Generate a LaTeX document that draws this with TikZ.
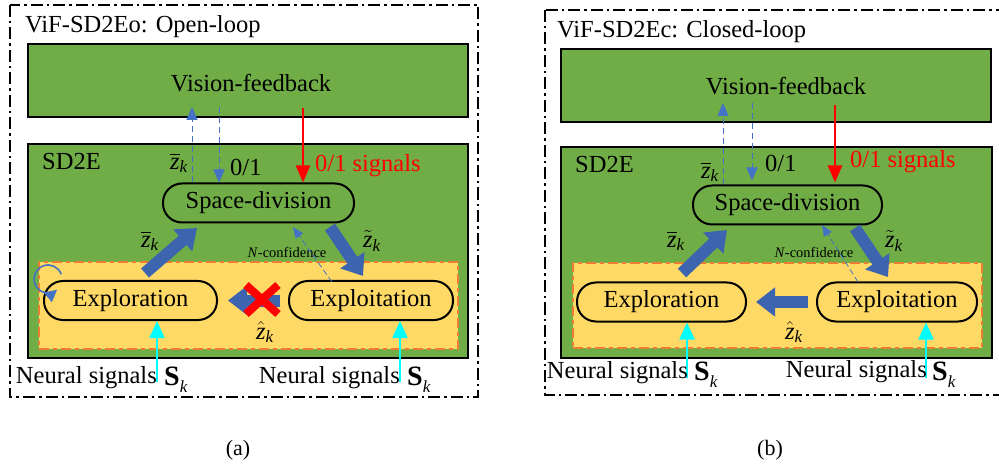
\RequirePackage{fix-cm}
\documentclass[tikz,border=0pt]{standalone}
\usepackage{amsmath}
\usepackage{fontspec}
\setmainfont{Liberation Serif}
\usetikzlibrary{arrows.meta,calc}
\definecolor{gr}{HTML}{70AD47}
\definecolor{yel}{HTML}{FFD966}
\definecolor{org}{HTML}{ED7D31}
\definecolor{bl}{HTML}{4472C4}
\definecolor{dbl}{HTML}{3D64AE}
\definecolor{cy}{HTML}{00FFFF}
\newcommand\zlab[1]{$#1{\text{\itshape z}}_{\text{\itshape k}}$}
\newcommand\Sk{{\fontsize{28}{30}\selectfont\bfseries S}\raisebox{-7pt}{\fontsize{17}{18}\selectfont\itshape k}}
\tikzset{
  outer/.style={draw, line width=1.3pt, dash pattern=on 12pt off 4pt on 2.5pt off 4pt},
  gbox/.style={draw, fill=gr, line width=2pt, inner sep=0pt},
  ybox/.style={draw=org, fill=yel, line width=2pt, inner sep=0pt, dash pattern=on 10pt off 4pt on 4pt off 4pt},
  pill/.style={draw, line width=2pt, rounded corners=19pt, inner sep=0pt, minimum height=39pt, font=\fontsize{24.5}{28}\selectfont},
  txt/.style={inner sep=0pt, font=\fontsize{24.5}{28}\selectfont},
  small/.style={inner sep=0pt, font=\fontsize{14.5}{16}\selectfont},
  dasharr/.style={draw=bl, line width=1pt, dash pattern=on 6pt off 4pt, -{Triangle[width=11pt,length=13pt]}},
  thinarr/.style={draw=bl, line width=0.8pt, dash pattern=on 6pt off 3pt, -{Triangle[width=9pt,length=11pt]}},
  redarr/.style={draw=red, line width=2.2pt, -{Triangle[width=14pt,length=17pt]}},
  cyanarr/.style={draw=cy, line width=2pt, -{Triangle[width=15pt,length=17pt]}},
  blockarr/.style={draw=dbl, line width=12pt, -{Triangle[width=28pt,length=19pt]}},
  loopst/.style={draw=bl, line width=1.6pt, -{Triangle[width=12pt,length=12pt]}},
  cross/.style={draw=red, line width=8pt}
}
\begin{document}
\begin{tikzpicture}[x=1pt,y=-1pt]
\useasboundingbox (0,0) rectangle (999,465);
\clip (0,0) rectangle (999,465);
%%%%%%%%%%%%%%%% panel (a)
\draw[outer] (10,5) rectangle (478,397);
\node[txt, anchor=base west] (titA) at (25,33) {ViF-SD2Eo: Open-loop};
\node[gbox, minimum width=440pt, minimum height=73pt] (vfA) at (248,80.5) {};
\node[txt, anchor=base] (vftA) at (251,92) {Vision-feedback};
\node[gbox, minimum width=440pt, minimum height=214pt] (sdA) at (248,251) {};
\node[txt, anchor=base west] (sdtA) at (42,170) {SD2E};
\node[ybox, minimum width=419pt, minimum height=87pt] (yA) at (248.5,305.5) {};
\node[pill, fill=gr, minimum width=191pt] (spA) at (258.5,203) {Space-division};
\node[pill, fill=yel, minimum width=173pt] (exA) at (130.5,300.5) {Exploration};
\node[pill, fill=yel, minimum width=164pt] (eiA) at (371,300.5) {Exploitation};
% vision feedback links
\coordinate (uA) at (192,107);
\coordinate (dA) at (219,107);
\coordinate (rA) at (303,108);
\draw[dasharr] (spA.north -| uA) -- (uA);
\draw[dasharr] (dA) -- (spA.north -| dA);
\draw[redarr] (rA) -- (spA.north -| rA);
\node[txt] (zbA) at (179,163) {\zlab\overline};
\node[txt, anchor=base west] (o1A) at (230,176) {0/1};
\node[txt, anchor=base west, text=red] (o1sA) at (315,172) {0/1 signals};
% block arrows
\coordinate (a1s) at (145,273); \coordinate (a1e) at (197,228);
\coordinate (a2s) at (330,227); \coordinate (a2e) at (363,276);
\draw[blockarr] (a1s) -- (a1e);
\draw[blockarr] (a2s) -- (a2e);
\draw[blockarr] (eiA.west) ++(-8,0) coordinate (a3s) -- ($(exA.east)+(10,0)$);
\draw[cross] (246,285) -- (278,314);
\draw[cross] (246,314) -- (278,285);
\node[txt] (zb2A) at (150,241) {\zlab\overline};
\node[txt] (ztA) at (372,241) {\zlab\tilde};
\node[txt] (zhA) at (265,332) {\zlab\hat};
\node[small] (ncA) at (287,252) {\textit{N}-confidence};
\draw[thinarr] (332,282) coordinate (t1A) -- (293,227);
% self loop
\draw[loopst] (61.2,274.2) arc[start angle=-20, end angle=-310, radius=14];
% neural signals
\coordinate (nA1) at (157,382);
\coordinate (nA2) at (400,382);
\draw[cyanarr] (nA1) -- (exA.south -| nA1);
\draw[cyanarr] (nA2) -- (eiA.south -| nA2);
\node[txt, anchor=base east] (ns1A) at (157,383) {Neural signals};
\node[inner sep=0pt, anchor=base west] (s1A) at (164,385) {\Sk};
\node[txt, anchor=base east] (ns2A) at (400,383) {Neural signals};
\node[inner sep=0pt, anchor=base west] (s2A) at (407,385) {\Sk};
\node[txt, font=\fontsize{22}{24}\selectfont] (capA) at (238,450) {(a)};
%%%%%%%%%%%%%%%% panel (b)
\draw[outer] (545,10) rectangle (1010,395);
\node[txt, anchor=base west] (titB) at (557,38) {ViF-SD2Ec: Closed-loop};
\node[gbox, minimum width=430pt, minimum height=73pt] (vfB) at (776,85.5) {};
\node[txt, anchor=base] (vftB) at (786,95) {Vision-feedback};
\node[gbox, minimum width=431pt, minimum height=211pt] (sdB) at (776.5,252.5) {};
\node[txt, anchor=base west] (sdtB) at (575,173) {SD2E};
\node[ybox, minimum width=409pt, minimum height=85pt] (yB) at (777.5,305.5) {};
\node[pill, fill=gr, minimum width=189pt] (spB) at (787.5,205) {Space-division};
\node[pill, fill=yel, minimum width=169pt] (exB) at (661.5,302) {Exploration};
\node[pill, fill=yel, minimum width=160pt] (eiB) at (897,302) {Exploitation};
\coordinate (uB) at (723,103);
\coordinate (dB) at (752,103);
\coordinate (rB) at (835,105);
\draw[dasharr] (spB.north -| uB) -- (uB);
\draw[dasharr] (dB) ++(0,0) -- ($(spB.north -| dB)+(0,-4)$);
\draw[redarr] (rB) -- ($(spB.north -| rB)+(0,-2)$);
\node[txt] (zbB) at (710,172) {\zlab\overline};
\node[txt, anchor=base west] (o1B) at (765,172) {0/1};
\node[txt, anchor=base west, text=red] (o1sB) at (850,168) {0/1 signals};
\coordinate (b1s) at (682,273); \coordinate (b1e) at (727,230);
\coordinate (b2s) at (855,228); \coordinate (b2e) at (888,277);
\draw[blockarr] (b1s) -- (b1e);
\draw[blockarr] (b2s) -- (b2e);
\draw[blockarr] ($(eiB.west)+(-8,0)$) -- ($(exB.east)+(9,0)$);
\node[txt] (zb2B) at (676,241) {\zlab\overline};
\node[txt] (ztB) at (894,241) {\zlab\tilde};
\node[txt] (zhB) at (794,332) {\zlab\hat};
\node[small] (ncB) at (814,252) {\textit{N}-confidence};
\draw[thinarr] (858,282) -- (822,225);
\coordinate (nB1) at (687,378);
\coordinate (nB2) at (926,378);
\draw[cyanarr] (nB1) -- (exB.south -| nB1);
\draw[cyanarr] (nB2) -- (eiB.south -| nB2);
\node[txt, anchor=base east] (ns1B) at (688,378) {Neural signals};
\node[inner sep=0pt, anchor=base west] (s1B) at (694,380) {\Sk};
\node[txt, anchor=base east] (ns2B) at (927,377) {Neural signals};
\node[inner sep=0pt, anchor=base west] (s2B) at (932,380) {\Sk};
\node[txt, font=\fontsize{22}{24}\selectfont] (capB) at (770,450) {(b)};
\end{tikzpicture}
\end{document}
